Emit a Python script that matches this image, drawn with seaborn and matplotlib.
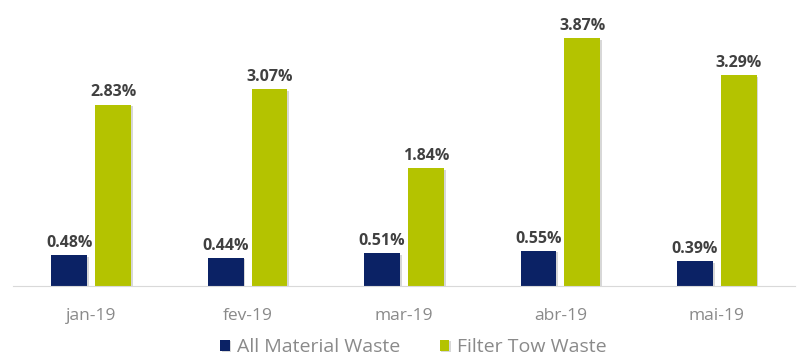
import matplotlib
matplotlib.use("Agg")
import matplotlib.pyplot as plt
import matplotlib.patheffects as pe
import seaborn as sns
import pandas as pd

months = ["jan-19", "fev-19", "mar-19", "abr-19", "mai-19"]
all_material = [0.48, 0.44, 0.51, 0.55, 0.39]
filter_tow = [2.83, 3.07, 1.84, 3.87, 3.29]
series_names = ["All Material Waste", "Filter Tow Waste"]
colors = ["#0b2265", "#b4c300"]

df = pd.DataFrame({
    "month": months * 2,
    "value": all_material + filter_tow,
    "series": [series_names[0]] * len(months) + [series_names[1]] * len(months),
})

sns.set_style("white")
plt.rcParams["font.family"] = ["Open Sans", "DejaVu Sans"]

fig = plt.figure(figsize=(7.98, 3.6), dpi=100)
ax = fig.add_axes([13 / 798, 74 / 360, 782 / 798, 286 / 360])

sns.barplot(data=df, x="month", y="value", hue="series", order=months,
            hue_order=series_names, palette=colors, width=0.56, gap=0.18,
            saturation=1, linewidth=0, ax=ax, legend=True)

handles, labels = ax.get_legend_handles_labels()
ax.get_legend().remove()

for p in ax.patches:
    p.set_path_effects([pe.SimplePatchShadow(offset=(1.2, -1.2), shadow_rgbFace="#a8a8a8", alpha=0.45), pe.Normal()])

for cont in ax.containers:
    ax.bar_label(cont, labels=[f"{v:.2f}%" for v in cont.datavalues], padding=3,
                 fontsize=11.5, fontweight="bold", color="#404040")

ax.set_ylim(0, 4.46)
ax.set_xlim(-0.5, 4.5)
ax.set_xlabel("")
ax.set_ylabel("")
ax.set_yticks([])
for s in ["top", "left", "right"]:
    ax.spines[s].set_visible(False)
ax.spines["bottom"].set_color("#d9d9d9")
ax.tick_params(axis="x", length=0, pad=15.5, labelsize=12.5, labelcolor="#8a8a8a")

fig.legend(handles, labels, loc="center", bbox_to_anchor=(0.518, 0.036), ncol=2,
           frameon=False, fontsize=14, labelcolor="#8a8a8a", handlelength=0.5,
           handleheight=0.5, handletextpad=0.4, columnspacing=2.0)

fig.savefig("out.png", dpi=100)
